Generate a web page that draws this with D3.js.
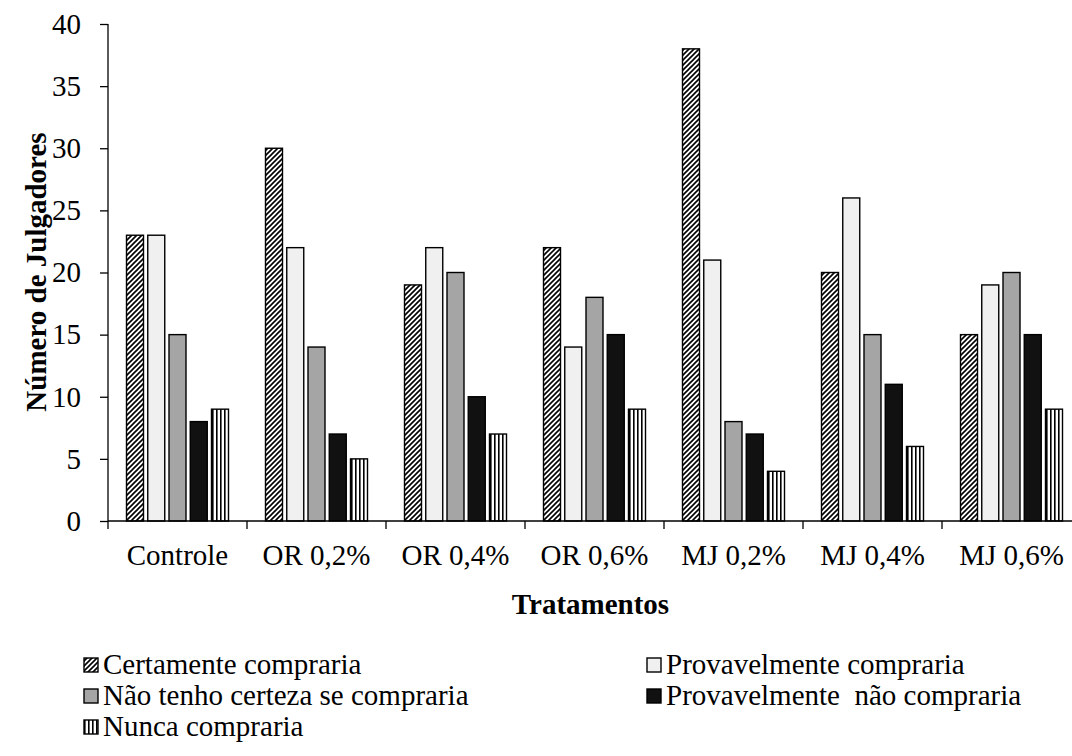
<!DOCTYPE html>
<html>
<head>
<meta charset="utf-8">
<script src="https://cdn.jsdelivr.net/npm/d3@7"></script>
<style>
  body { margin: 0; background: #fff; }
  svg { display: block; font-family: "Liberation Serif", "Times New Roman", serif; }
</style>
</head>
<body>
<svg id="chart" width="1072" height="756"></svg>
<script>
// Treatments on the x axis
const treatments = ["Controle", "OR 0,2%", "OR 0,4%", "OR 0,6%", "MJ 0,2%", "MJ 0,4%", "MJ 0,6%"];

// Purchase-intention answers (one series each)
const seriesNames = [
  "Certamente compraria",
  "Provavelmente compraria",
  "Não tenho certeza se compraria",
  "Provavelmente  não compraria",
  "Nunca compraria"
];

// Number of judges per answer, in treatment order
const certamente    = [23, 30, 19, 22, 38, 20, 15];
const provavelmente = [23, 22, 22, 14, 21, 26, 19];
const naoTenho      = [15, 14, 20, 18,  8, 15, 20];
const provNao       = [ 8,  7, 10, 15,  7, 11, 15];
const nunca         = [ 9,  5,  7,  9,  4,  6,  9];

const yTicks = [0, 5, 10, 15, 20, 25, 30, 35, 40];

const seriesValues = [certamente, provavelmente, naoTenho, provNao, nunca];

const FONT = "Liberation Serif, Times New Roman, serif";
const FS = 29;

const svg = d3.select("#chart");
const margin = { left: 108, right: -9, top: 24, bottom: 235 };
const width = 1072 - margin.left - margin.right;
const height = 756 - margin.top - margin.bottom;

// Fill patterns
const defs = svg.append("defs");
const diag = defs.append("pattern")
  .attr("id", "diag").attr("patternUnits", "userSpaceOnUse")
  .attr("width", 5).attr("height", 5);
diag.append("rect").attr("width", 5).attr("height", 5).attr("fill", "#fff");
diag.append("path").attr("d", "M-1,6 L6,-1 M-2,2 L2,-2 M3,7 L7,3")
  .attr("stroke", "#000").attr("stroke-width", 1.6);

const vert = defs.append("pattern")
  .attr("id", "vert").attr("patternUnits", "userSpaceOnUse")
  .attr("width", 4).attr("height", 4);
vert.append("rect").attr("width", 4).attr("height", 4).attr("fill", "#fff");
vert.append("rect").attr("x", 0).attr("width", 1.6).attr("height", 4).attr("fill", "#000");

const fills = ["url(#diag)", "#f0f0f0", "#a5a5a5", "#111111", "url(#vert)"];

const g = svg.append("g").attr("transform", `translate(${margin.left},${margin.top})`);

const x0 = d3.scaleBand().domain(treatments).range([0, width]).paddingInner(0).paddingOuter(0);
const x1 = d3.scaleBand().domain(d3.range(seriesNames.length))
  .range([18.5, x0.bandwidth() - 18.5]).paddingInner(0.2).paddingOuter(0);
const y = d3.scaleLinear().domain([0, 40]).range([height, 0]);

// Bars
treatments.forEach((t, i) => {
  const grp = g.append("g").attr("transform", `translate(${x0(t)},0)`);
  seriesValues.forEach((vals, s) => {
    grp.append("rect")
      .attr("x", x1(s))
      .attr("y", y(vals[i]))
      .attr("width", x1.bandwidth())
      .attr("height", y(0) - y(vals[i]))
      .attr("fill", fills[s])
      .attr("stroke", "#000")
      .attr("stroke-width", 1.4);
  });
});

// Y axis
const yAxis = g.append("g")
  .call(d3.axisLeft(y).tickValues(yTicks).tickSize(8).tickPadding(19));
yAxis.attr("font-family", FONT);
yAxis.selectAll("text").attr("font-size", FS).attr("fill", "#000");
yAxis.selectAll("line").attr("stroke", "#000").attr("stroke-width", 1.3);
yAxis.select(".domain").attr("d", `M0,0V${height}`).attr("stroke", "#000").attr("stroke-width", 1.3);

// X axis with ticks at group boundaries
const xAxis = g.append("g").attr("transform", `translate(0,${height})`);
xAxis.append("line").attr("x1", 0).attr("x2", width).attr("y1", 0).attr("y2", 0)
  .attr("stroke", "#000").attr("stroke-width", 1.3);
const bounds = treatments.map(t => x0(t)).concat([width]);
xAxis.selectAll(".tk").data(bounds).enter().append("line")
  .attr("x1", d => d).attr("x2", d => d).attr("y1", 0).attr("y2", 8)
  .attr("stroke", "#000").attr("stroke-width", 1.3);
xAxis.selectAll(".lbl").data(treatments).enter().append("text")
  .attr("x", d => x0(d) + x0.bandwidth() / 2)
  .attr("y", 44)
  .attr("text-anchor", "middle")
  .attr("font-family", FONT)
  .attr("font-size", FS)
  .attr("fill", "#000")
  .text(d => d);

// Axis titles
svg.append("text")
  .attr("x", margin.left + width / 2 - 4)
  .attr("y", 614)
  .attr("text-anchor", "middle")
  .attr("font-family", FONT)
  .attr("font-size", FS).attr("font-weight", "bold")
  .text("Tratamentos");

svg.append("text")
  .attr("transform", `translate(46,272) rotate(-90)`)
  .attr("text-anchor", "middle")
  .attr("font-family", FONT)
  .attr("font-size", FS).attr("font-weight", "bold")
  .text("Número de Julgadores");

// Legend
const legendPos = [
  [84, 665], [647, 665],
  [84, 696], [647, 696],
  [84, 727]
];
seriesNames.forEach((name, s) => {
  const [lx, ly] = legendPos[s];
  svg.append("rect")
    .attr("x", lx).attr("y", ly - 7).attr("width", 14).attr("height", 14)
    .attr("fill", fills[s]).attr("stroke", "#000").attr("stroke-width", 1.4);
  svg.append("text")
    .attr("x", lx + 19).attr("y", ly + 9)
    .attr("font-family", FONT)
    .attr("font-size", FS).attr("fill", "#000")
    .style("white-space", "pre")
    .text(name);
});
</script>
</body>
</html>
